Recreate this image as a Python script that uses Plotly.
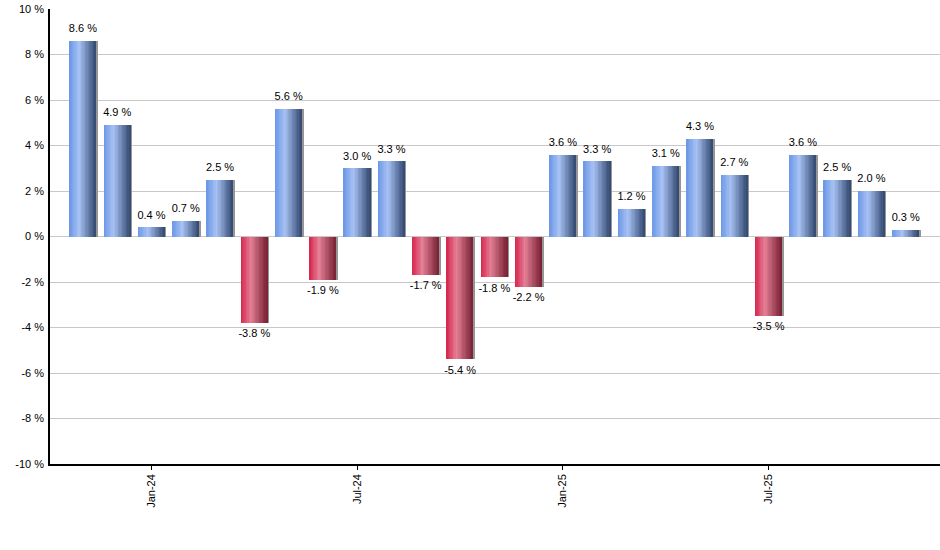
import plotly.graph_objects as go

months = ["Nov-23","Dec-23","Jan-24","Feb-24","Mar-24","Apr-24","May-24","Jun-24","Jul-24","Aug-24",
          "Sep-24","Oct-24","Nov-24","Dec-24","Jan-25","Feb-25","Mar-25","Apr-25","May-25","Jun-25",
          "Jul-25","Aug-25","Sep-25","Oct-25","Nov-25"]
returns = [8.6, 4.9, 0.4, 0.7, 2.5, -3.8, 5.6, -1.9, 3.0, 3.3,
           -1.7, -5.4, -1.8, -2.2, 3.6, 3.3, 1.2, 3.1, 4.3, 2.7,
           -3.5, 3.6, 2.5, 2.0, 0.3]
tick_labels = ["Jan-24", "Jul-24", "Jan-25", "Jul-25"]

x = list(range(len(months)))
tick_pos = [months.index(t) for t in tick_labels]

BLUE = [(0.0, (106, 150, 230)), (0.38, (168, 194, 244)), (1.0, (50, 72, 112))]
RED = [(0.0, (214, 36, 76)), (0.38, (228, 128, 150)), (1.0, (120, 32, 52))]

def interp(stops, t):
    for (t0, c0), (t1, c1) in zip(stops[:-1], stops[1:]):
        if t0 <= t <= t1:
            f = (t - t0) / (t1 - t0) if t1 > t0 else 0
            return "rgb(%d,%d,%d)" % tuple(round(a + (b - a) * f) for a, b in zip(c0, c1))
    c = stops[-1][1]
    return "rgb(%d,%d,%d)" % c

fig = go.Figure()
W = 0.77
N = 20
sw = W / N
# shadow
fig.add_trace(go.Bar(x=x, y=returns, width=W, offset=-W / 2 + 0.05,
                     marker=dict(color="rgb(150,150,150)", line=dict(width=0)),
                     hoverinfo="skip", showlegend=False))
for k in range(N):
    t = (k + 0.5) / N
    cols = [interp(BLUE if v >= 0 else RED, t) for v in returns]
    fig.add_trace(go.Bar(x=x, y=returns, width=sw * 1.08, offset=-W / 2 + k * sw,
                         marker=dict(color=cols, line=dict(width=0)),
                         hoverinfo="skip", showlegend=False))

fig.add_trace(go.Scatter(
    x=x, y=returns, mode="markers+text",
    marker=dict(size=8, opacity=0),
    text=["%.1f %%" % v for v in returns],
    textposition=["top center" if v >= 0 else "bottom center" for v in returns],
    textfont=dict(family="Liberation Sans, Arial", size=11, color="#000"),
    hoverinfo="skip", showlegend=False))

fig.update_layout(
    width=940, height=550,
    margin=dict(l=50, r=0, t=9, b=86),
    plot_bgcolor="white", paper_bgcolor="white",
    barmode="overlay", bargap=0,
    font=dict(family="Liberation Sans, Arial", size=11, color="#000"),
)
fig.update_xaxes(range=[-0.96, 25.0], tickmode="array", tickvals=tick_pos, ticktext=tick_labels,
                 tickangle=-90, ticks="outside", ticklen=4, tickcolor="#000",
                 showline=True, linecolor="#000", linewidth=1.5, showgrid=False, zeroline=False,
                 tickfont=dict(size=11), automargin=False)
fig.update_yaxes(range=[-10, 10], tickmode="array", tickvals=list(range(-10, 11, 2)),
                 ticktext=["%d %%" % v for v in range(-10, 11, 2)],
                 showline=True, linecolor="#000", linewidth=1.5, showgrid=True,
                 gridcolor="#c8c8c8", gridwidth=1, zeroline=False, ticks="", ticklabelstandoff=2,
                 tickfont=dict(size=11), automargin=False)

fig.write_html("out.html", config={"displayModeBar": False},
               post_script="document.body.style.margin='0';")
